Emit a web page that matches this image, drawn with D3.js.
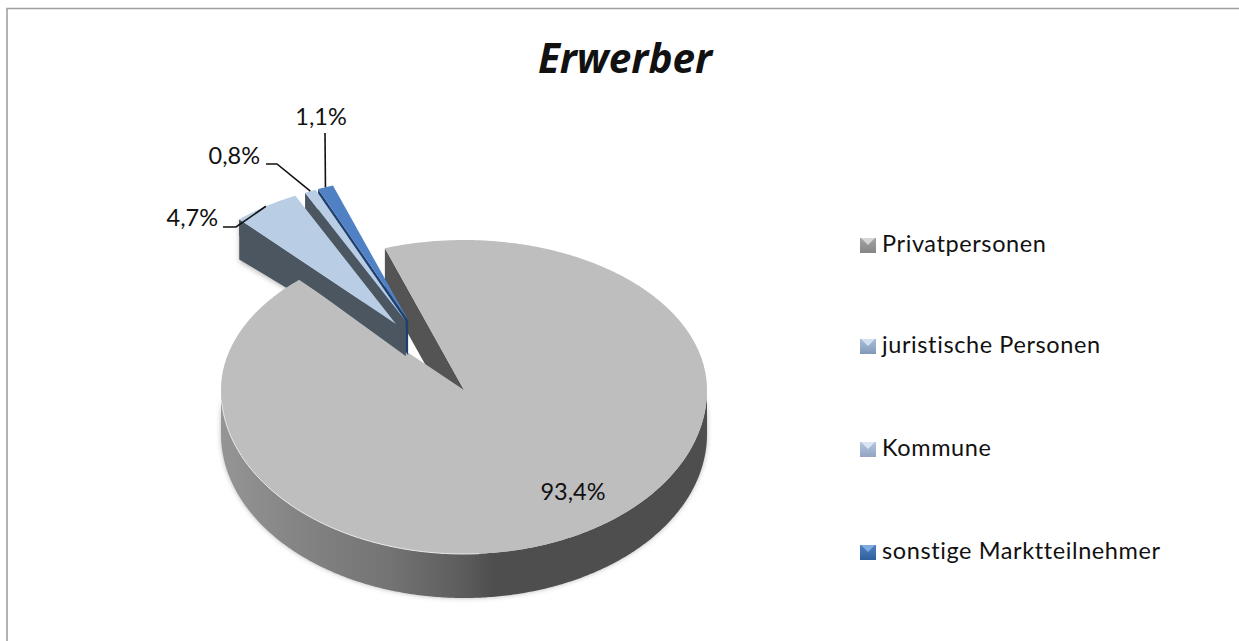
<html>
  <head>
    <title>Erwerber</title>
    <script src="https://cdn.jsdelivr.net/npm/d3@7/dist/d3.min.js"></script>
    <style type="text/css">
        * {
            padding: 0px;
            margin: 0px;
        }
        body {
            background: white;
            overflow: hidden;
        }
        text {
            font-family: Lato, "Open Sans", sans-serif;
            fill: #111;
        }
    </style>
  </head>
  <body>
    <svg id="viz"></svg>
  </body>
</html>

<script language="javascript">

    // values
    var categories = ["Privatpersonen", "juristische Personen", "Kommune", "sonstige Marktteilnehmer"];
    var shares = [93.4, 4.7, 0.8, 1.1];
    var shareLabels = ["93,4%", "4,7%", "0,8%", "1,1%"];
    var topColors = ["#bebebe", "#b9cde5", "#b9cde5", "#4f81c4"];
    var wallColors = ["#545454", "#4b5661", "#4b5661", "#1f3f6e"];

    var w = 1239, h = 641;

    // pie projection: flattened circle, the front half is a bit taller than the back
    var cx = 464, cy = 390, rx = 243, ryBack = 150, ryFront = 164;
    var depth = 44;
    var firstAngle = -19 * Math.PI / 180;

    // exploded slices are all pushed the same way (unit circle space)
    var explode = [[0, 0], [-0.28, -0.44], [-0.24, -0.46], [-0.23, -0.465]];
    var sliceRadius = [1, 0.95, 0.95, 0.95];

    var viz = d3.select("#viz")
        .attr("width", w)
        .attr("height", h);

    var defs = viz.append("defs");

    var rimGrad = defs.append("linearGradient")
        .attr("id", "rim")
        .attr("gradientUnits", "userSpaceOnUse")
        .attr("x1", cx - rx).attr("x2", cx + rx)
        .attr("y1", 0).attr("y2", 0);
    [[0, "#959595"], [0.15, "#858585"], [0.35, "#737373"], [0.5, "#5c5c5c"], [0.56, "#4e4e4e"], [1, "#4e4e4e"]]
        .forEach(function(s) {
            rimGrad.append("stop").attr("offset", s[0]).attr("stop-color", s[1]);
        });

    defs.append("filter").attr("id", "soft")
        .attr("x", "-10%").attr("y", "-10%").attr("width", "120%").attr("height", "120%")
        .append("feGaussianBlur").attr("stdDeviation", 2.5);

    var pieGen = d3.pie()
        .sort(null)
        .startAngle(firstAngle)
        .endAngle(firstAngle + 2 * Math.PI);
    var slices = pieGen(shares);

    var lineGen = d3.line().x((p) => p[0]).y((p) => p[1]);

    // angle is clockwise from the top, like d3.pie
    function project(angle, r, i, down) {
        var u = r * Math.sin(angle) + explode[i][0];
        var v = -r * Math.cos(angle) + explode[i][1];
        return [cx + rx * u, cy + (v < 0 ? ryBack : ryFront) * v + (down || 0)];
    }

    function arcPoints(a0, a1, r, i, down) {
        var n = Math.max(2, Math.ceil(Math.abs(a1 - a0) / 0.01));
        return d3.range(n + 1).map(function(k) {
            return project(a0 + (a1 - a0) * k / n, r, i, down);
        });
    }

    function polygon(points, fill, parent) {
        return (parent || viz).append("path")
            .attr("d", lineGen(points) + "Z")
            .attr("fill", fill);
    }

    function tip(i, down) {
        return project(0, 0, i, down);
    }

    // shadow and rim of the big slice, left end round the front to the right end
    var rimFront = arcPoints(-Math.PI / 2, -3 * Math.PI / 2, 1, 0, 0);
    var rimBack = arcPoints(-3 * Math.PI / 2, -Math.PI / 2, 1, 0, depth);
    polygon(rimFront.concat(rimBack), "#999").attr("filter", "url(#soft)").attr("opacity", 0.7);
    polygon(rimFront.concat(rimBack), "url(#rim)");

    // far wall of the gap
    var big = slices[0];
    var bigR = sliceRadius[0];
    polygon([project(big.startAngle, bigR, 0), project(big.startAngle, bigR, 0, depth), tip(0, depth), tip(0)], wallColors[0]);

    // back part of the wall of the largest small slice goes under the big top
    var jur = slices[1];
    var jurA = project(jur.startAngle, sliceRadius[1], 1);
    var jurShadow = [project(jur.startAngle, sliceRadius[1], 1, 42), tip(1, 30)];
    polygon([jurA, jurShadow[0], jurShadow[1], tip(1)], "#bbb").attr("filter", "url(#soft)");
    polygon([jurA, project(jur.startAngle, sliceRadius[1], 1, 40), tip(1, 30), tip(1)], wallColors[1]);

    // top of big slice
    polygon(arcPoints(big.startAngle, big.endAngle, bigR, 0).concat([tip(0)]), topColors[0]);

    // light edge along the front of the big top
    viz.append("path")
        .attr("d", lineGen(arcPoints(-Math.PI * 0.52, -Math.PI * 1.02, 1, 0)))
        .attr("fill", "none")
        .attr("stroke", "#e9e9e9")
        .attr("stroke-width", 1);

    // small slices: right one first so the next one overlaps its wall
    [3, 2].forEach(function(i) {
        var s = slices[i];
        var r = sliceRadius[i];
        polygon([project(s.startAngle, r, i), project(s.startAngle, r, i, 35), tip(i, 35), tip(i)], wallColors[i]);
        polygon(arcPoints(s.startAngle, s.endAngle, r, i).concat([tip(i)]), topColors[i]);
    });

    // front part of the jur wall over the big top, then its top
    polygon([jurA, project(jur.startAngle, sliceRadius[1], 1, 16), tip(2, 35), tip(2, 6), tip(1)], wallColors[1]);
    polygon(arcPoints(jur.startAngle, jur.endAngle, sliceRadius[1], 1).concat([tip(1)]), topColors[1]);

    // title
    viz.append("text")
        .attr("x", 625)
        .attr("y", 73)
        .attr("text-anchor", "middle")
        .style("font-family", "'Open Sans'")
        .style("font-size", "40.5px")
        .style("font-weight", "bold")
        .style("font-style", "italic")
        .text("Erwerber");

    // data labels, leaders run from the label to the slice
    var labelPos = [[573, 500], [218, 226], [260, 164], [321, 125]];
    var labelAnchor = ["middle", "end", "end", "middle"];
    var elbows = [null, [[223, 227], [236, 227]], [[266, 164], [277, 164]], [[325, 133]]];

    shares.forEach(function(d, i) {
        viz.append("text")
            .attr("x", labelPos[i][0])
            .attr("y", labelPos[i][1])
            .attr("text-anchor", labelAnchor[i])
            .style("font-size", "23.5px")
            .text(shareLabels[i]);
        if (elbows[i]) {
            var s = slices[i];
            var end = project((s.startAngle + s.endAngle) / 2, sliceRadius[i], i);
            viz.append("path")
                .attr("d", lineGen(elbows[i].concat([end])))
                .attr("fill", "none")
                .attr("stroke", "#111")
                .attr("stroke-width", 1.6);
        }
    });

    // legend
    var legendY = d3.scaleOrdinal()
        .domain(categories)
        .range([245, 346, 449, 552]);
    var markerColors = [["#d6d6d6", "#a4a4a4", "#858585"], ["#d2dff0", "#a9bdd8", "#8199ba"],
        ["#dae5f3", "#b4c5dc", "#92a6c2"], ["#7fabe0", "#4f81c4", "#2f5f9c"]];

    categories.forEach(function(c, i) {
        var y = legendY(c);
        var g = viz.append("g").attr("transform", "translate(860," + (y - 7) + ")");
        var grad = defs.append("linearGradient")
            .attr("id", "marker" + i)
            .attr("x1", 0).attr("x2", 0).attr("y1", 0).attr("y2", 1);
        grad.append("stop").attr("offset", 0).attr("stop-color", markerColors[i][1]);
        grad.append("stop").attr("offset", 1).attr("stop-color", markerColors[i][2]);
        g.append("rect")
            .attr("width", 16).attr("height", 15)
            .attr("fill", "url(#marker" + i + ")");
        polygon([[1, 0], [15, 0], [8, 7]], markerColors[i][0], g);
        viz.append("text")
            .attr("x", 882)
            .attr("y", y + 7)
            .style("font-size", "23.5px")
            .style("letter-spacing", "0.6px")
            .text(c);
    });

    // outer frame, only top and left show
    viz.append("path")
        .attr("d", lineGen([[7, h], [7, 8.5], [w, 8.5]]))
        .attr("fill", "none")
        .attr("stroke", "#a0a0a0")
        .attr("stroke-width", 1.6);
</script>
